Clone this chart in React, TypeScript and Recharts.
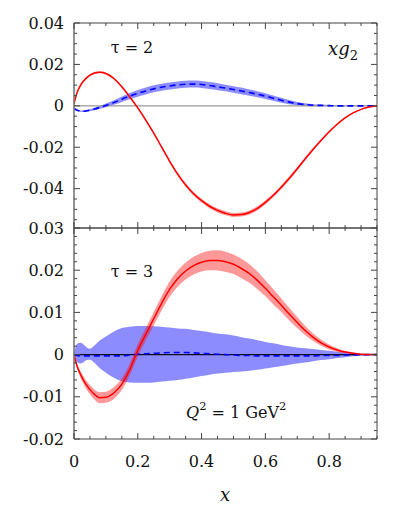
import { ComposedChart, Area, Line, XAxis, YAxis, ReferenceLine } from "recharts";

// x grid (finer near 0, where the tau=3 band has a small bump)
const xs = [
  0, 0.01, 0.02, 0.03, 0.04, 0.05, 0.065, 0.08, 0.1, 0.125, 0.15, 0.175, 0.2, 0.225, 0.25,
  0.275, 0.3, 0.325, 0.35, 0.375, 0.4, 0.425, 0.45, 0.475, 0.5, 0.525, 0.55, 0.575, 0.6,
  0.625, 0.65, 0.675, 0.7, 0.725, 0.75, 0.775, 0.8, 0.825, 0.85, 0.875, 0.9, 0.925, 0.95,
];

// tau = 2 panel
const red2 = [
  0.001, 0.0065, 0.0098, 0.012, 0.0136, 0.0148, 0.0159, 0.0162, 0.0156, 0.0132, 0.0092, 0.0043,
  -0.001, -0.0069, -0.0132, -0.02, -0.0268, -0.033, -0.0382, -0.0425, -0.0458, -0.0485, -0.0505,
  -0.0519, -0.0527, -0.0525, -0.0515, -0.0495, -0.0466, -0.0432, -0.0393, -0.035, -0.0304,
  -0.0256, -0.021, -0.0166, -0.0125, -0.0089, -0.0058, -0.0034, -0.0017, -0.0006, 0,
];
const red2Err = [
  0.0003, 0.0004, 0.0005, 0.0005, 0.0005, 0.0005, 0.0005, 0.0005, 0.0005, 0.0005, 0.0005, 0.0005,
  0.0005, 0.0006, 0.0006, 0.0007, 0.0007, 0.0008, 0.0008, 0.0009, 0.0009, 0.001, 0.001, 0.001,
  0.001, 0.001, 0.001, 0.001, 0.001, 0.0009, 0.0009, 0.0009, 0.0008, 0.0008, 0.0007, 0.0006,
  0.0005, 0.0004, 0.0003, 0.0002, 0.0001, 0.0001, 0,
];
const blue2 = [
  -0.0013, -0.0021, -0.0025, -0.0026, -0.0024, -0.0021, -0.0015, -0.0008, 0.0002, 0.0016, 0.0032,
  0.0047, 0.006, 0.0072, 0.0082, 0.009, 0.0096, 0.0101, 0.0104, 0.0105, 0.0103, 0.0098, 0.0092,
  0.0086, 0.0079, 0.0072, 0.0064, 0.0056, 0.0047, 0.0037, 0.0027, 0.0018, 0.0011, 0.0006, 0.0003,
  0.0002, 0.0001, 0, 0, 0, 0, 0, 0,
];
const blue2Err = [
  0.0002, 0.0003, 0.0003, 0.0004, 0.0004, 0.0005, 0.0006, 0.0007, 0.0009, 0.0011, 0.0013, 0.0015,
  0.0016, 0.0017, 0.0017, 0.0017, 0.0017, 0.0017, 0.0017, 0.0017, 0.0017, 0.0017, 0.0017, 0.0016,
  0.0016, 0.0016, 0.0015, 0.0015, 0.0014, 0.0013, 0.0012, 0.001, 0.0008, 0.0007, 0.0005, 0.0004,
  0.0003, 0.0002, 0.0002, 0.0001, 0.0001, 0, 0,
];

// tau = 3 panel
const red3 = [
  0, -0.0028, -0.0046, -0.0061, -0.0073, -0.0083, -0.0095, -0.0102, -0.0101, -0.0091, -0.007,
  -0.0035, 0.001, 0.0048, 0.0085, 0.0122, 0.0155, 0.018, 0.0198, 0.0211, 0.0219, 0.0223, 0.0223,
  0.022, 0.0214, 0.0204, 0.0192, 0.0176, 0.0157, 0.0137, 0.0117, 0.0096, 0.0076, 0.0057, 0.0041,
  0.0028, 0.0018, 0.0011, 0.0006, 0.0003, 0.0001, 0, 0,
];
const red3Err = [
  0.0002, 0.0006, 0.0008, 0.0009, 0.001, 0.0011, 0.0012, 0.0013, 0.0013, 0.0014, 0.0014, 0.0014,
  0.0015, 0.0015, 0.0016, 0.0017, 0.0018, 0.0019, 0.002, 0.0021, 0.0022, 0.0023, 0.0024, 0.0024,
  0.0023, 0.0023, 0.0022, 0.0021, 0.0019, 0.0018, 0.0016, 0.0015, 0.0013, 0.0011, 0.0009, 0.0007,
  0.0006, 0.0004, 0.0003, 0.0002, 0.0001, 0, 0,
];
const blue3 = [
  0, -0.0002, -0.0003, -0.0003, -0.0003, -0.0003, -0.0003, -0.0003, -0.0003, -0.0003, -0.0003,
  -0.0001, 0.0001, 0.0002, 0.0003, 0.0004, 0.0005, 0.0005, 0.0005, 0.0004, 0.0003, 0.0002, 0.0001,
  0, -0.0001, -0.0002, -0.0002, -0.0003, -0.0003, -0.0003, -0.0003, -0.0003, -0.0003, -0.0003,
  -0.0003, -0.0002, -0.0002, -0.0002, -0.0001, -0.0001, 0, 0, 0,
];
const blue3Hi = [
  0.0003, 0.0026, 0.0028, 0.0024, 0.0017, 0.0014, 0.0022, 0.0033, 0.0043, 0.0055, 0.0063, 0.0066,
  0.0068, 0.0068, 0.0067, 0.0066, 0.0064, 0.0062, 0.0061, 0.0058, 0.0056, 0.0053, 0.005, 0.0048,
  0.0045, 0.0041, 0.0038, 0.0034, 0.003, 0.0027, 0.0023, 0.002, 0.0017, 0.0015, 0.0013, 0.0011,
  0.0009, 0.0007, 0.0005, 0.0003, 0.0002, 0.0001, 0,
];
const blue3Lo = [
  -0.0003, -0.0018, -0.0021, -0.0018, -0.0013, -0.0012, -0.002, -0.0032, -0.0043, -0.0055, -0.0063,
  -0.0066, -0.0067, -0.0067, -0.0066, -0.0064, -0.0062, -0.006, -0.0057, -0.0054, -0.0051, -0.0048,
  -0.0045, -0.0043, -0.0041, -0.004, -0.0038, -0.0036, -0.0033, -0.003, -0.0027, -0.0024, -0.0021,
  -0.0019, -0.0016, -0.0013, -0.0011, -0.0008, -0.0006, -0.0004, -0.0002, -0.0001, 0,
];

// axis ticks
const xMajor = [0, 0.2, 0.4, 0.6, 0.8];
const yMajorTop = [-0.04, -0.02, 0, 0.02, 0.04];
const yMajorBottom = [-0.02, -0.01, 0, 0.01, 0.02, 0.03];

const steps = (from: number, to: number, step: number) => {
  const out: number[] = [];
  for (let v = from; v <= to + 1e-9; v += step) out.push(Math.round(v * 10000) / 10000);
  return out;
};
const xMinor = steps(0, 0.95, 0.05);
const yMinorTop = steps(-0.055, 0.04, 0.005);
const yMinorBottom = steps(-0.02, 0.03, 0.002);

const topData = xs.map((x, i) => ({
  x,
  red: red2[i],
  redBand: [red2[i] - red2Err[i], red2[i] + red2Err[i]],
  blue: blue2[i],
  blueBand: [blue2[i] - blue2Err[i], blue2[i] + blue2Err[i]],
}));

const bottomData = xs.map((x, i) => ({
  x,
  red: red3[i],
  redBand: [red3[i] - red3Err[i], red3[i] + red3Err[i]],
  blue: blue3[i],
  blueBand: [blue3Lo[i], blue3Hi[i]],
}));

// Liberation Serif doesn't resolve here, DejaVu Serif does
const FONT = "'DejaVu Serif', serif";
const W = 407;

type Side = "bottom" | "top" | "left" | "right";

function makeTick(side: Side, majors: number[], labels: boolean) {
  return (props: any) => {
    const { x, y, payload } = props;
    const v = payload.value as number;
    const major = majors.some((m) => Math.abs(m - v) < 1e-9);
    const len = major ? 6 : 3;
    let line = { x1: x, y1: y, x2: x, y2: y };
    if (side === "bottom") line = { x1: x, y1: y, x2: x, y2: y - len };
    if (side === "top") line = { x1: x, y1: y, x2: x, y2: y + len };
    if (side === "left") line = { x1: x, y1: y, x2: x + len, y2: y };
    if (side === "right") line = { x1: x, y1: y, x2: x - len, y2: y };
    return (
      <g>
        <line {...line} stroke="#444" strokeWidth={1} />
        {labels && major && side === "bottom" && (
          <text x={x} y={y + 22} textAnchor="middle" dominantBaseline="central" fontFamily={FONT} fontSize={16} fill="#111">
            {String(v)}
          </text>
        )}
        {labels && major && side === "left" && (
          <text x={x - 10} y={y} textAnchor="end" dominantBaseline="central" fontFamily={FONT} fontSize={16} fill="#111">
            {String(v)}
          </text>
        )}
      </g>
    );
  };
}

type PanelProps = {
  data: Array<Record<string, unknown>>;
  domain: [number, number];
  yTicks: number[];
  yMajor: number[];
  zeroColor: string;
  height: number;
  margin: { top: number; right: number; bottom: number; left: number };
  bottomAxisHeight: number;
  xLabels: boolean;
};

function Panel({ data, domain, yTicks, yMajor, zeroColor, height, margin, bottomAxisHeight, xLabels }: PanelProps) {
  const axisLine = { stroke: "#444", strokeWidth: 1 };
  return (
    <ComposedChart width={W} height={height} data={data} margin={margin}>
      <XAxis
        xAxisId="b"
        type="number"
        dataKey="x"
        domain={[0, 0.95]}
        allowDataOverflow
        ticks={xMinor}
        interval={0}
        tickSize={0}
        tickMargin={0}
        tickLine={false}
        axisLine={axisLine}
        height={bottomAxisHeight}
        tick={makeTick("bottom", xMajor, xLabels)}
      />
      <XAxis
        xAxisId="t"
        orientation="top"
        type="number"
        dataKey="x"
        domain={[0, 0.95]}
        allowDataOverflow
        ticks={xMinor}
        interval={0}
        tickSize={0}
        tickMargin={0}
        tickLine={false}
        axisLine={axisLine}
        height={10}
        tick={makeTick("top", xMajor, false)}
      />
      <YAxis
        yAxisId="l"
        type="number"
        domain={domain}
        allowDataOverflow
        ticks={yTicks}
        interval={0}
        tickSize={0}
        tickMargin={0}
        tickLine={false}
        axisLine={{ stroke: "#777", strokeWidth: 1.6 }}
        width={60}
        tick={makeTick("left", yMajor, true)}
      />
      <YAxis
        yAxisId="r"
        orientation="right"
        type="number"
        domain={domain}
        allowDataOverflow
        ticks={yTicks}
        interval={0}
        tickSize={0}
        tickMargin={0}
        tickLine={false}
        axisLine={axisLine}
        width={10}
        tick={makeTick("right", yMajor, false)}
      />
      <Area
        xAxisId="b"
        yAxisId="l"
        type="monotone"
        dataKey="blueBand"
        stroke="none"
        fill="#0000ff"
        fillOpacity={0.45}
        isAnimationActive={false}
      />
      <Area
        xAxisId="b"
        yAxisId="l"
        type="monotone"
        dataKey="redBand"
        stroke="none"
        fill="#ff0000"
        fillOpacity={0.4}
        isAnimationActive={false}
      />
      <ReferenceLine xAxisId="b" yAxisId="l" y={0} stroke={zeroColor} strokeWidth={1.2} />
      <Line
        xAxisId="b"
        yAxisId="l"
        type="monotone"
        dataKey="blue"
        stroke="#0000ff"
        strokeWidth={1.6}
        strokeDasharray="6 4"
        dot={false}
        isAnimationActive={false}
      />
      <Line
        xAxisId="b"
        yAxisId="l"
        type="monotone"
        dataKey="red"
        stroke="#ff0000"
        strokeWidth={1.5}
        dot={false}
        isAnimationActive={false}
      />
    </ComposedChart>
  );
}

export default function App() {
  return (
    <div style={{ position: "absolute", left: 0, top: 0, width: W, height: 508, background: "#fff" }}>
      <div style={{ position: "absolute", left: 0, top: 0 }}>
        <Panel
          data={topData}
          domain={[-0.059, 0.04]}
          yTicks={yMinorTop}
          yMajor={yMajorTop}
          zeroColor="#999"
          height={240}
          margin={{ top: 13, right: 20, bottom: 2, left: 14 }}
          bottomAxisHeight={10}
          xLabels={false}
        />
      </div>
      <div style={{ position: "absolute", left: 0, top: 208 }}>
        <Panel
          data={bottomData}
          domain={[-0.02, 0.03]}
          yTicks={yMinorBottom}
          yMajor={yMajorBottom}
          zeroColor="#111"
          height={300}
          margin={{ top: 10, right: 20, bottom: 19, left: 14 }}
          bottomAxisHeight={50}
          xLabels
        />
      </div>
      <svg width={W} height={508} style={{ position: "absolute", left: 0, top: 0, pointerEvents: "none" }}>
        <text x={132} y={53} textAnchor="middle" fontFamily={FONT} fontSize={16} fill="#111">
          τ = 2
        </text>
        <text x={328} y={55} fontFamily={FONT} fontSize={18} fill="#111">
          <tspan fontStyle="italic">xg</tspan>
          <tspan fontSize={13} dy={5}>2</tspan>
        </text>
        <text x={132} y={277} textAnchor="middle" fontFamily={FONT} fontSize={16} fill="#111">
          τ = 3
        </text>
        <text x={186} y={418} fontFamily={FONT} fontSize={16} fill="#111">
          <tspan fontStyle="italic">Q</tspan>
          <tspan fontSize={11.5} dy={-8}>2</tspan>
          <tspan dy={8}> = 1 GeV</tspan>
          <tspan fontSize={11.5} dy={-8}>2</tspan>
        </text>
        <text x={225} y={501} textAnchor="middle" fontFamily={FONT} fontSize={18} fontStyle="italic" fill="#111">
          x
        </text>
      </svg>
    </div>
  );
}
